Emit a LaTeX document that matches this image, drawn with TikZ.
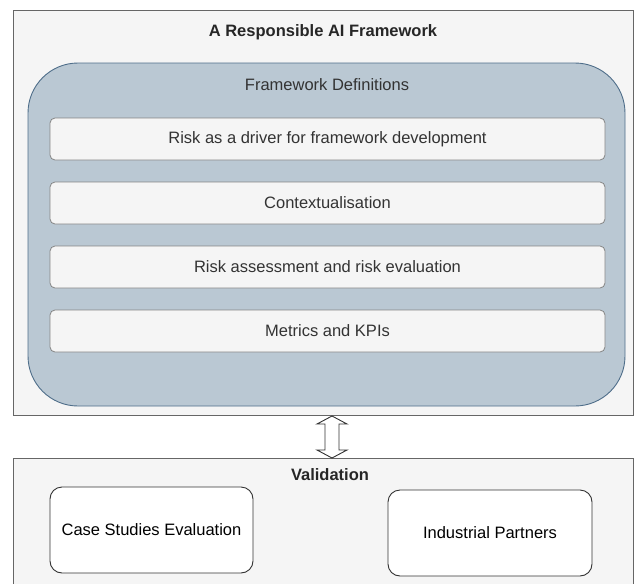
\documentclass[tikz,border=0pt]{standalone}
\usepackage{fontspec}
\setmainfont{Liberation Sans}
\definecolor{panelfill}{HTML}{F5F5F5}
\definecolor{panelline}{HTML}{666666}
\definecolor{bluefill}{HTML}{BAC8D3}
\definecolor{blueline}{HTML}{4F6E8A}
\definecolor{txtgray}{HTML}{333333}
\tikzset{
  panel/.style={draw=panelline, fill=panelfill, line width=0.8pt},
  bigblue/.style={draw=blueline, fill=bluefill, line width=0.9pt, rounded corners=50pt},
  item/.style={draw=panelline!80, fill=panelfill, line width=0.8pt, rounded corners=5pt,
    font=\fontsize{16.5}{19}\selectfont, text=txtgray},
  whitebox/.style={draw=black!80, fill=white, line width=0.9pt, rounded corners=12pt,
    font=\fontsize{16.5}{19}\selectfont, text=black},
  title/.style={font=\bfseries\fontsize{16.5}{19}\selectfont, text=black!85},
  subtitle/.style={font=\fontsize{16.5}{19}\selectfont, text=txtgray}
}
\begin{document}
\begin{tikzpicture}[x=1pt,y=-1pt]
\useasboundingbox (0,0) rectangle (635,584);
% top panel
\draw[panel] (13,10) rectangle (633,415);
\coordinate (toptip) at (332,416);
\node[title] (ttl) at (323,32) {A Responsible AI Framework};
\draw[bigblue] (28,63) rectangle (625,406);
\node[subtitle] (fd) at (327,85) {Framework Definitions};
\node[item, minimum width=555pt, minimum height=42pt, anchor=center] (i1) at (327.5,139) {Risk as a driver for framework development};
\node[item, minimum width=555pt, minimum height=42pt, anchor=center] (i2) at (327.5,203) {Contextualisation};
\node[item, minimum width=555pt, minimum height=42pt, anchor=center] (i3) at (327.5,267) {Risk assessment and risk evaluation};
\node[item, minimum width=555pt, minimum height=42pt, anchor=center] (i4) at (327.5,331) {Metrics and KPIs};
% validation panel
\draw[panel] (13,458) rectangle (633,600);
\coordinate (bottip) at (332,458);
\node[title] (val) at (330,475) {Validation};
\node[whitebox, minimum width=203pt, minimum height=86pt] (cs) at (151.5,530) {Case Studies Evaluation};
\node[whitebox, minimum width=204pt, minimum height=86pt] (ip) at (490,533) {Industrial Partners};
% hollow double arrow
\draw[line width=0.9pt, draw=black!80, fill=white, line join=miter]
  (toptip) -- ++(15,8) -- ++(-8,0) -- ++(0,26) -- ++(8,0) -- (bottip)
  -- ++(-15,-8) -- ++(8,0) -- ++(0,-26) -- ++(-8,0) -- cycle;
\end{tikzpicture}
\end{document}
